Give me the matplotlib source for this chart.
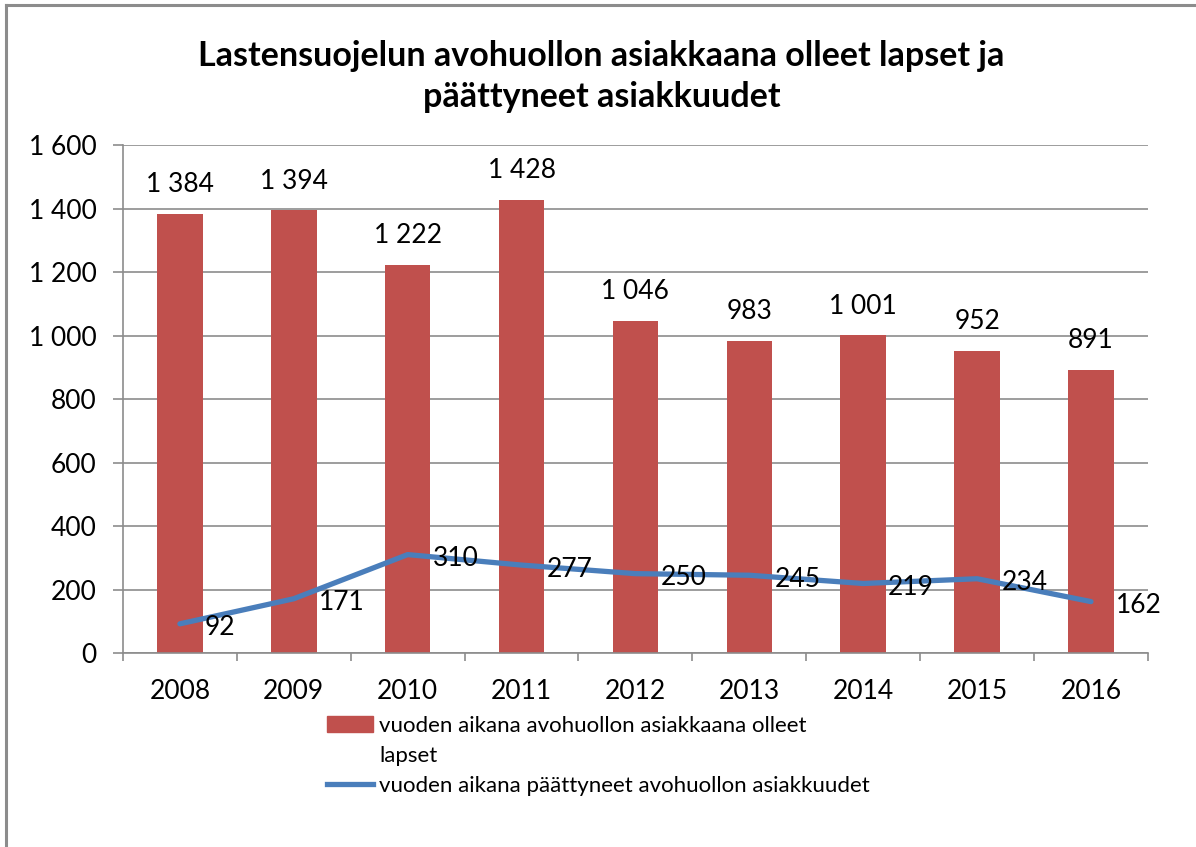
import matplotlib
matplotlib.use('Agg')
from matplotlib import pyplot as plt
from matplotlib.lines import Line2D
from matplotlib.patches import Patch
from matplotlib.ticker import FuncFormatter, FixedLocator

years = ['2008', '2009', '2010', '2011', '2012', '2013', '2014', '2015', '2016']
children = [1384, 1394, 1222, 1428, 1046, 983, 1001, 952, 891]
ended = [92, 171, 310, 277, 250, 245, 219, 234, 162]
y_ticks = [0, 200, 400, 600, 800, 1000, 1200, 1400, 1600]

title = 'Lastensuojelun avohuollon asiakkaana olleet lapset ja\npäättyneet asiakkuudet'
# first legend label wraps onto a second row in the original
label_bars = ['vuoden aikana avohuollon asiakkaana olleet', 'lapset']
label_line = 'vuoden aikana päättyneet avohuollon asiakkuudet'

red = '#C0504D'
blue = '#4A7EBB'
grid_grey = '#8C8C8C'


def fmt(v):
    return f'{v:,}'.replace(',', ' ')


plt.rcParams['font.family'] = ['Lato', 'DejaVu Sans']

fig = plt.figure(figsize=(11.96, 8.47), dpi=100)
ax = fig.add_axes([0.1028, 0.229, 0.857, 0.5998])

x = list(range(len(years)))
ax.bar(x, children, width=0.4, color=red, zorder=2)
ax.plot(x, ended, color=blue, lw=3.8, zorder=3, solid_capstyle='round')

for xi, v in zip(x, children):
    ax.annotate(fmt(v), (xi, v), xytext=(0, 21), textcoords='offset points',
                ha='center', va='center', fontsize=19)
for xi, v in zip(x, ended):
    ax.annotate(fmt(v), (xi, v), xytext=(18, -3), textcoords='offset points',
                ha='left', va='center', fontsize=19, zorder=4)

ax.set_xlim(-0.5, len(years) - 0.5)
ax.set_ylim(0, 1600)
ax.yaxis.set_major_locator(FixedLocator(y_ticks))
ax.yaxis.set_major_formatter(FuncFormatter(lambda v, p: fmt(int(v))))
ax.set_xticks(x)
ax.set_xticklabels(years)
ax.set_xticks([i - 0.5 for i in range(len(years) + 1)], minor=True)
ax.tick_params(axis='x', which='major', length=0, pad=19, labelsize=19)
ax.tick_params(axis='x', which='minor', length=6, color=grid_grey, width=1.2)
ax.tick_params(axis='y', length=7, color=grid_grey, width=1.2, pad=12, labelsize=19)

ax.grid(axis='y', color=grid_grey, lw=1.2, zorder=0)
for s in ['top', 'right']:
    ax.spines[s].set_visible(False)
for s in ['left', 'bottom']:
    ax.spines[s].set_color(grid_grey)
    ax.spines[s].set_linewidth(1.2)

fig.text(0.503, 0.9097, title, ha='center', va='center', fontsize=24.5,
         fontweight='bold', linespacing=1.35)

handles = [Patch(color=red), Line2D([], [], color='none'),
           Line2D([], [], color=blue, lw=3.8)]
labels = label_bars + [label_line]
fig.legend(handles, labels, loc='upper left',
           bbox_to_anchor=(0.273, 0.155), frameon=False, fontsize=16,
           handlelength=2.1, handletextpad=0.27, labelspacing=0.45,
           borderaxespad=0, borderpad=0)

# outer chart frame (top and left edges visible)
fig.add_artist(Line2D([0.005, 0.005], [0, 0.994], color='#8C8C8C', lw=2.2))
fig.add_artist(Line2D([0.005, 1], [0.994, 0.994], color='#8C8C8C', lw=2.2))

fig.savefig('out.png', dpi=100)
